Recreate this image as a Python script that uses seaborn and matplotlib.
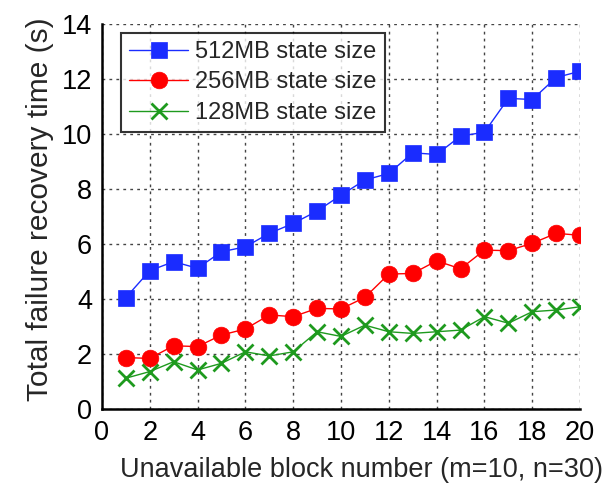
import numpy as np
import pandas as pd
import seaborn as sns
import matplotlib.pyplot as plt

blocks = list(range(1, 21))
time_512 = [4.05, 5.03, 5.36, 5.12, 5.72, 5.90, 6.39, 6.75, 7.20, 7.78,
            8.33, 8.57, 9.32, 9.26, 9.93, 10.07, 11.30, 11.26, 12.06, 12.29]
time_256 = [1.87, 1.84, 2.30, 2.27, 2.69, 2.91, 3.42, 3.36, 3.66, 3.64,
            4.06, 4.91, 4.93, 5.39, 5.10, 5.78, 5.76, 6.03, 6.39, 6.32]
time_128 = [1.12, 1.36, 1.72, 1.42, 1.66, 2.08, 1.93, 2.08, 2.81, 2.64,
            3.05, 2.81, 2.75, 2.81, 2.87, 3.36, 3.12, 3.54, 3.60, 3.72]
series_names = ["512MB state size", "256MB state size", "128MB state size"]
x_ticks = list(range(0, 21, 2))
y_ticks = list(range(0, 15, 2))

df = pd.DataFrame({
    "block": blocks * 3,
    "time": time_512 + time_256 + time_128,
    "series": [n for n in series_names for _ in blocks],
})

sns.set_style("white")
plt.rcParams["font.family"] = ["Liberation Sans", "DejaVu Sans"]

colors = {series_names[0]: "#1a2cff", series_names[1]: "#ff0000", series_names[2]: "#1e9a1e"}
markers = {series_names[0]: "s", series_names[1]: "o", series_names[2]: "X"}

fig = plt.figure(figsize=(6.1, 4.84), dpi=100)
ax = fig.add_axes([0.167, 0.155, 0.784, 0.795])

sns.lineplot(data=df, x="block", y="time", hue="series", style="series",
             palette=colors, markers=markers, dashes=False, ax=ax,
             linewidth=1.0, legend=False)

# restyle markers per series
for line, name in zip(ax.get_lines(), series_names):
    c = colors[name]
    if name == series_names[2]:
        line.set_marker("x")
        line.set_markersize(12)
        line.set_markeredgewidth(2.0)
        line.set_markeredgecolor(c)
    else:
        line.set_markersize(11 if name == series_names[0] else 12)
        line.set_markerfacecolor(c)
        line.set_markeredgecolor(c)
        line.set_markeredgewidth(0.5)
    line.set_label(name)

ax.set_xlim(0, 20)
ax.set_ylim(0, 14)
ax.set_xticks(x_ticks)
ax.set_yticks(y_ticks)
ax.tick_params(axis="both", direction="in", length=5, width=1.2,
               labelsize=19.5, colors="black")
ax.tick_params(axis="x", pad=8)
ax.tick_params(axis="y", pad=7)
ax.grid(True, linestyle=(0, (2, 3)), color="#444444", linewidth=1.0)
for side in ["top", "right"]:
    ax.spines[side].set_visible(False)
for side in ["left", "bottom"]:
    ax.spines[side].set_color("black")
    ax.spines[side].set_linewidth(1.8)

ax.set_xlabel("Unavailable block number (m=10, n=30)", fontsize=19.5)
ax.set_ylabel("Total failure recovery time (s)", fontsize=21.5)
ax.xaxis.set_label_coords(0.542, -0.125)
ax.yaxis.set_label_coords(-0.1, 0.52)

leg = ax.legend(loc="upper left", bbox_to_anchor=(0.04, 0.978), fontsize=17,
                frameon=True, fancybox=False, handlelength=2.5,
                handletextpad=0.3, borderpad=0.35, labelspacing=0.36,
                borderaxespad=0.0)
leg.get_frame().set_edgecolor("black")
leg.get_frame().set_linewidth(1.5)

fig.savefig("out.png", dpi=100)
